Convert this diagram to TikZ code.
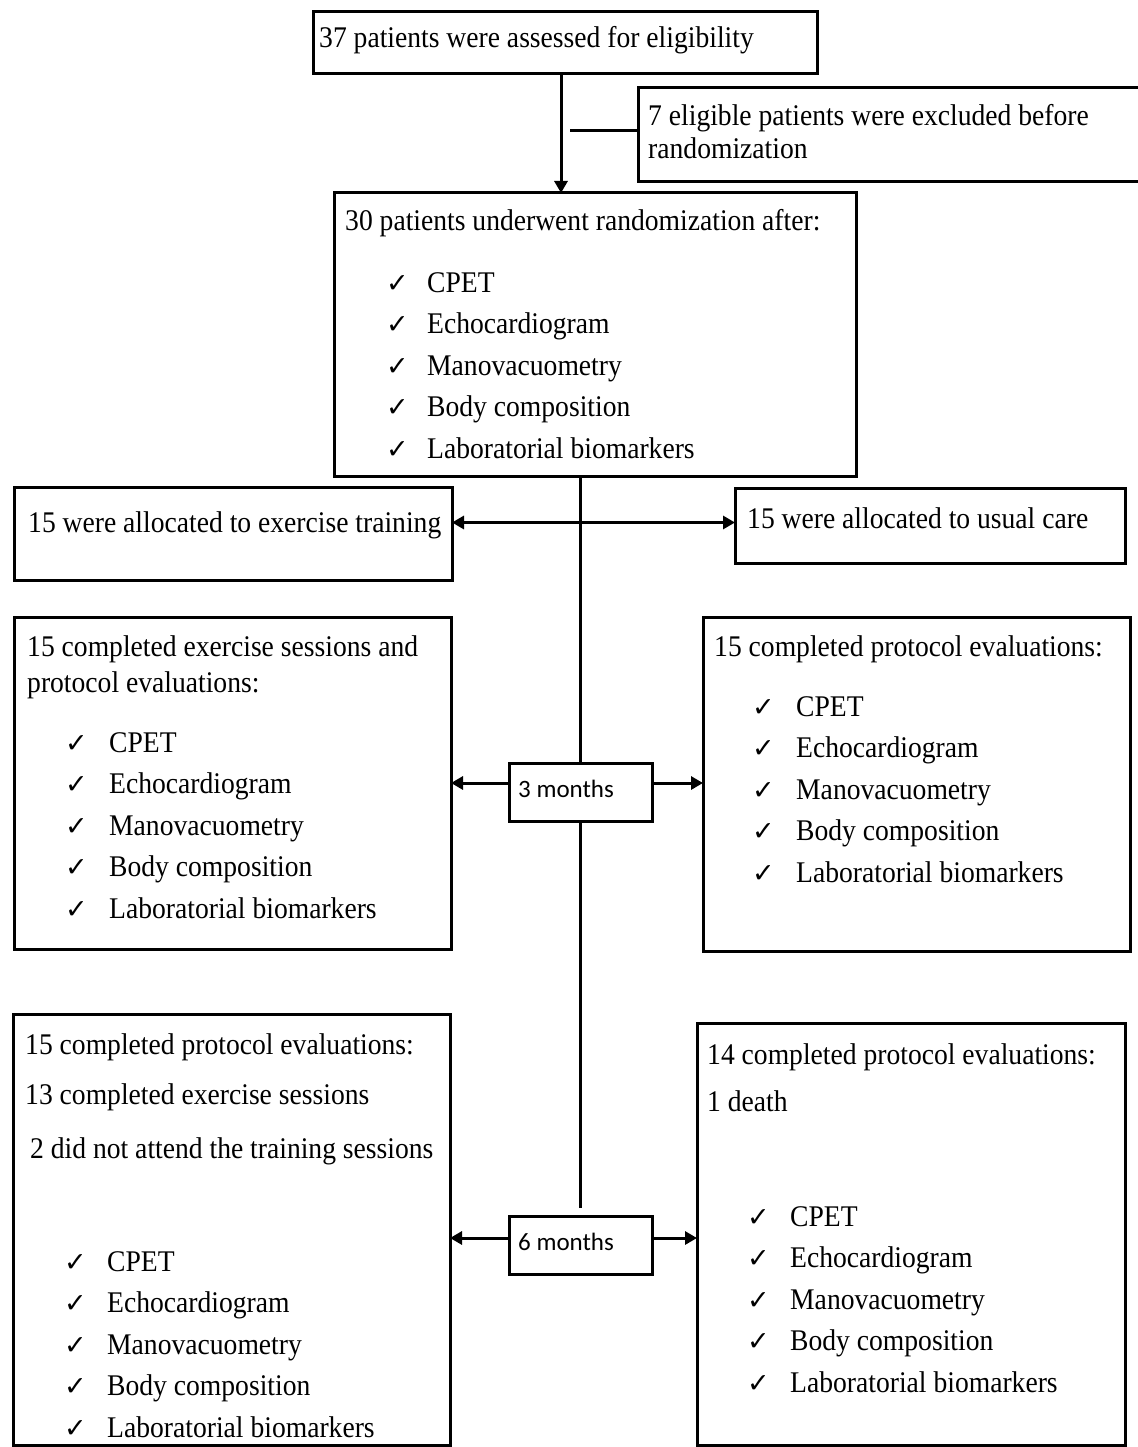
\documentclass[tikz,border=0pt]{standalone}
\usepackage{fontspec}
\setmainfont{Liberation Serif}[FakeStretch=0.92]
\newfontfamily\ckfont{DejaVu Sans}
\newfontfamily\calfont{Carlito}
\usetikzlibrary{arrows.meta,calc}
\tikzset{
  bx/.style={draw, line width=3pt, inner sep=0pt, outer sep=0pt, anchor=north west},
  txt/.style={anchor=base west, yshift=-9pt, inner sep=0pt, font=\fontsize{30}{36}\selectfont},
  ck/.style={anchor=base west, yshift=-9pt, inner sep=0pt, font=\ckfont\fontsize{27}{30}\selectfont},
  mtxt/.style={anchor=base west, yshift=-8pt, inner sep=0pt, font=\calfont\fontsize{25}{30}\selectfont},
  conn/.style={line width=3pt},
  arr/.style={line width=3pt, -{Triangle[length=12pt,width=13pt]}},
  darr/.style={line width=3pt, {Triangle[length=12pt,width=13pt]}-{Triangle[length=12pt,width=13pt]}}
}
\newcommand\boxnode[5]{\node[bx, minimum width={(#4-#2)*1pt}, minimum height={(#5-#3)*1pt}] (#1) at (#2,#3) {};}
\newcommand\ckList[4]{%
  \foreach \t [count=\i] in {CPET,Echocardiogram,Manovacuometry,Body composition,Laboratorial biomarkers}{
    \node[ck] (#1c\i) at (#2,{#4+41.5*(\i-1)}) {✓};
    \node[txt] (#1t\i) at (#3,{#4+41.5*(\i-1)}) {\t};
  }}
\begin{document}
\begin{tikzpicture}[x=1pt,y=-1pt]
\useasboundingbox (0,0) rectangle (1137,1447);
% boxes
\boxnode{A}{313}{12}{817}{74}
\boxnode{C}{638}{88}{1150}{182}
\boxnode{B}{334}{193}{856}{476}
\boxnode{D}{14}{487}{452}{580}
\boxnode{E}{735}{488}{1125}{563}
\boxnode{F}{14}{617}{451}{949}
\boxnode{G}{703}{617}{1130}{951}
\boxnode{M3}{509}{763}{652}{821}
\boxnode{H}{13}{1014}{450}{1445}
\boxnode{I}{697}{1023}{1125}{1445}
\boxnode{M6}{509}{1216}{652}{1274}
% texts
\node[txt] (At) at (319,39) {37 patients were assessed for eligibility};
\node[txt] (Ct1) at (648,117) {7 eligible patients were excluded before};
\node[txt] (Ct2) at (648,150) {randomization};
\node[txt] (Bt) at (345,222) {30 patients underwent randomization after:};
\ckList{B}{386}{427}{283}
\node[txt] (Dt) at (28,523) {15 were allocated to exercise training};
\node[txt] (Et) at (747,519) {15 were allocated to usual care};
\node[txt] (Ft1) at (27,647) {15 completed exercise sessions and};
\node[txt] (Ft2) at (27,683) {protocol evaluations:};
\ckList{F}{65}{109}{743}
\node[txt] (Gt) at (714,647) {15 completed protocol evaluations:};
\ckList{G}{752}{796}{707}
\node[mtxt] (M3t) at (518,789) {3 months};
\node[txt] (Ht1) at (25,1045) {15 completed protocol evaluations:};
\node[txt] (Ht2) at (25,1095) {13 completed exercise sessions};
\node[txt] (Ht3) at (30,1149) {2 did not attend the training sessions};
\ckList{H}{64}{107}{1262}
\node[txt] (It1) at (707,1055) {14 completed protocol evaluations:};
\node[txt] (It2) at (707,1102) {1 death};
\ckList{I}{747}{790}{1217}
\node[mtxt] (M6t) at (518,1242) {6 months};
% connectors
\draw[arr] ([xshift=-4pt]A.south) -- ([xshift=-4pt]A.south |- B.north);
\coordinate (cj) at (570,131);
\draw[conn] (cj) -- (cj -| C.west);
\draw[conn] (M3.north |- B.south) -- (M3.north);
\draw[conn] (M3.south) -- ([yshift=8pt]M6.north);
\draw[darr] ([yshift=11pt]D.east) -- ([yshift=11pt]D.east -| E.west);
\draw[arr] ([yshift=9pt]M3.west) -- ([yshift=9pt]M3.west -| F.east);
\draw[arr] ([yshift=9pt]M3.east) -- ([yshift=9pt]M3.east -| G.west);
\draw[arr] ([yshift=7pt]M6.west) -- ([yshift=7pt]M6.west -| H.east);
\draw[arr] ([yshift=7pt]M6.east) -- ([yshift=7pt]M6.east -| I.west);
\end{tikzpicture}
\end{document}
